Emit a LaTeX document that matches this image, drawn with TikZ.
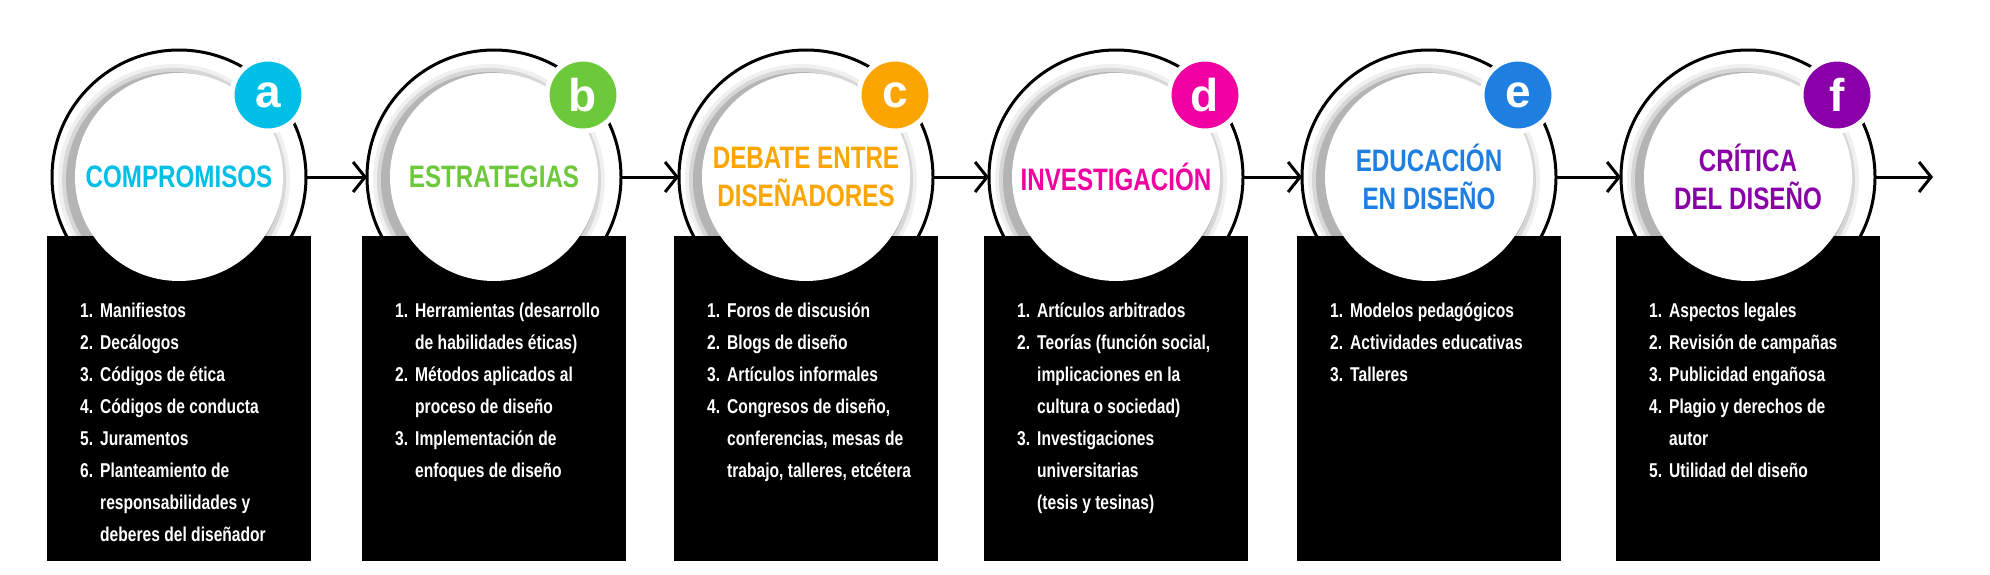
\documentclass[tikz,border=0pt]{standalone}
\usepackage{fontspec}
\setmainfont{Liberation Sans}
\newfontfamily\nar{Liberation Sans}[FakeStretch=0.78]
\usetikzlibrary{arrows.meta}
\definecolor{ca}{HTML}{00BFE6}
\definecolor{cb}{HTML}{6CC93A}
\definecolor{cc}{HTML}{FBA500}
\definecolor{cd}{HTML}{F000A0}
\definecolor{ce}{HTML}{1E7FE0}
\definecolor{cf}{HTML}{8A00A8}
\newcommand{\itm}[2]{\makebox[20pt][l]{#1}#2}
\newcommand{\cnt}[1]{\hspace*{20pt}#1}
\tikzset{
  ring/.style={draw=black, line width=3pt},
  listbox/.style={fill=black},
  title/.style={font=\nar\bfseries\fontsize{31}{38}\selectfont, align=center, inner sep=0},
  listtxt/.style={font=\nar\bfseries\fontsize{20}{32}\selectfont, text=white, align=left, anchor=north west, inner sep=0},
  badge/.style={circle, draw=white, line width=5pt, minimum size=72pt, inner sep=0, text=white, font=\bfseries\fontsize{46}{46}\selectfont},
  flow/.style={draw=black, line width=3pt, -{Straight Barb[length=12pt,width=30pt,line width=3pt]}},
}
\newcommand{\panel}[6]{% name, cx, color, letter, title, list
  \draw[ring] (#2,177) circle (127pt);
  \coordinate (#1E) at (#2+127,177);
  \coordinate (#1W) at (#2-127,177);
  \fill[listbox] (#2-132,236) rectangle (#2+132,561);
  \foreach \r/\o in {116/0.06,112/0.10,108/0.16}{\fill[black,opacity=\o] (#2-5,180) circle (\r pt);}
  \fill[white] (#2,177) circle (104pt);
  \node[badge, fill=#3] (#1b) at (#2+89,95) {#4};
  \node[title, text=#3] (#1t) at (#2,177) {#5};
  \node[listtxt] (#1l) at (#2-99,303) {#6};
}
\begin{document}
\begin{tikzpicture}[x=1pt,y=-1pt]
\useasboundingbox (0,0) rectangle (1990,574);
\fill[white] (0,0) rectangle (1990,574);
\panel{a}{179}{ca}{a}{COMPROMISOS}{\itm{1.}{Manifiestos}\\\itm{2.}{Decálogos}\\\itm{3.}{Códigos de ética}\\\itm{4.}{Códigos de conducta}\\\itm{5.}{Juramentos}\\\itm{6.}{Planteamiento de}\\\cnt{responsabilidades y}\\\cnt{deberes del diseñador}}
\panel{b}{494}{cb}{b}{ESTRATEGIAS}{\itm{1.}{Herramientas (desarrollo}\\\cnt{de habilidades éticas)}\\\itm{2.}{Métodos aplicados al}\\\cnt{proceso de diseño}\\\itm{3.}{Implementación de}\\\cnt{enfoques de diseño}}
\panel{c}{806}{cc}{c}{DEBATE ENTRE\\DISEÑADORES}{\itm{1.}{Foros de discusión}\\\itm{2.}{Blogs de diseño}\\\itm{3.}{Artículos informales}\\\itm{4.}{Congresos de diseño,}\\\cnt{conferencias, mesas de}\\\cnt{trabajo, talleres, etcétera}}
\panel{d}{1116}{cd}{d}{INVESTIGACIÓN}{\itm{1.}{Artículos arbitrados}\\\itm{2.}{Teorías (función social,}\\\cnt{implicaciones en la}\\\cnt{cultura o sociedad)}\\\itm{3.}{Investigaciones}\\\cnt{universitarias}\\\cnt{(tesis y tesinas)}}
\panel{e}{1429}{ce}{e}{EDUCACIÓN\\EN DISEÑO}{\itm{1.}{Modelos pedagógicos}\\\itm{2.}{Actividades educativas}\\\itm{3.}{Talleres}}
\panel{f}{1748}{cf}{f}{CRÍTICA\\DEL DISEÑO}{\itm{1.}{Aspectos legales}\\\itm{2.}{Revisión de campañas}\\\itm{3.}{Publicidad engañosa}\\\itm{4.}{Plagio y derechos de}\\\cnt{autor}\\\itm{5.}{Utilidad del diseño}}
\coordinate (end) at (1933,177);
\draw[flow] (aE) -- (bW);
\draw[flow] (bE) -- (cW);
\draw[flow] (cE) -- (dW);
\draw[flow] (dE) -- (eW);
\draw[flow] (eE) -- (fW);
\draw[flow] (fE) -- (end);
\end{tikzpicture}
\end{document}
